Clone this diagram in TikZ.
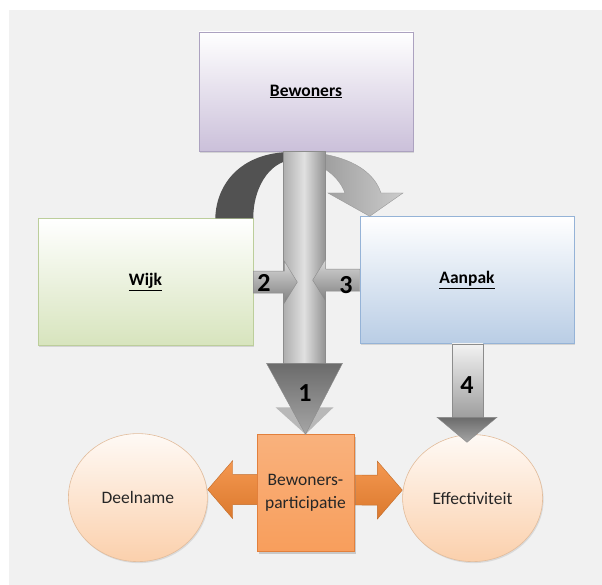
\documentclass[tikz,border=0pt]{standalone}
\usepackage{fontspec}
\setmainfont{Carlito}
\definecolor{bggrey}{RGB}{241,241,241}
\definecolor{bewfill}{RGB}{203,192,218}
\definecolor{bewline}{RGB}{172,162,192}
\definecolor{wijkfill}{RGB}{215,228,189}
\definecolor{wijkline}{RGB}{188,206,155}
\definecolor{aanpakfill}{RGB}{185,205,229}
\definecolor{aanpakline}{RGB}{149,179,215}
\definecolor{peach}{RGB}{251,208,172}
\definecolor{peachline}{RGB}{226,188,155}
\definecolor{partfill}{RGB}{248,158,92}
\definecolor{partline}{RGB}{226,128,60}
\definecolor{arrorange}{RGB}{243,134,50}
\definecolor{textgrey}{RGB}{38,38,38}
\usetikzlibrary{shapes.geometric,positioning,calc,shadows,backgrounds}

\begin{document}
\begin{tikzpicture}[x=1pt,y=-1pt,font=\fontsize{17.5}{23}\selectfont]
  \tikzstyle{mainbox}=[rectangle,minimum width=214pt,minimum height=127pt,inner sep=0pt,align=center,line width=0.6pt,font=\fontsize{17.5}{23}\selectfont\bfseries,top color=white,drop shadow={shadow xshift=1.2pt,shadow yshift=-1.8pt,opacity=0.25}]
  \tikzstyle{roundbox}=[ellipse,minimum width=139pt,minimum height=128pt,inner sep=0pt,draw=peachline,line width=0.6pt,top color=peach!12,bottom color=peach,text=textgrey,drop shadow={shadow xshift=1pt,shadow yshift=-1.5pt,opacity=0.2}]
  \tikzstyle{partbox}=[rectangle,minimum width=97pt,minimum height=117pt,inner sep=0pt,align=center,draw=partline,line width=0.6pt,top color=partfill!80!white,bottom color=partfill,text=textgrey,drop shadow={shadow xshift=1.5pt,shadow yshift=-2pt,opacity=0.35}]
  \tikzstyle{numlabel}=[font=\fontsize{26}{30}\selectfont\bfseries,inner sep=0pt]
  \tikzstyle{greyshaft}=[left color=black!32,right color=black!42,middle color=black!12,draw=black!45,line width=0.4pt]
  \tikzstyle{greyhead}=[top color=black!58,bottom color=black!35,draw=black!45,line width=0.4pt]
  \tikzstyle{greybar}=[top color=black!15,bottom color=black!50,draw=black!45,line width=0.4pt]

  \useasboundingbox (0,0) rectangle (602,585);
  \begin{scope}[on background layer]
    \fill[bggrey] (9,10) rectangle (602,585);
  \end{scope}

  % boxes
  \node[mainbox,minimum height=119pt,draw=bewline,bottom color=bewfill] (bew) at (306,91.5) {\underline{Bewoners}};
  \node[mainbox,below=67pt of bew,xshift=-160.5pt,minimum width=215pt,draw=wijkline,bottom color=wijkfill] (wijk) {\underline{Wijk}};
  \node[mainbox,below=65pt of bew,xshift=161pt,draw=aanpakline,bottom color=aanpakfill] (aanpak) {\underline{Aanpak}};
  \node[partbox,below=283pt of bew,xshift=-0.5pt] (part) {Bewoners-\\participatie};
  \node[roundbox,left=49pt of part,yshift=-4.5pt] (dee) {Deelname};
  \node[roundbox,right=48pt of part,yshift=-5pt,minimum width=140pt,minimum height=127pt] (eff) {Effectiviteit};

  % curved arrow from wijk over to aanpak
  \fill[black!68] ($(wijk.north east)+(-38,0)$) .. controls (216,185) and (240,152) .. (292,152)
    -- (292,160) .. controls (268,162) and (253,190) .. (wijk.north east) -- cycle;
  \path[left color=black!45,right color=black!20,draw=black!40,line width=0.4pt]
    (292,152) .. controls (335,151) and (372,165) .. (381,193) -- (403,193)
    -- ($(aanpak.north west)+(10,0)$) -- (328,193) -- (345,193)
    .. controls (337,172) and (315,160) .. (292,160) -- cycle;

  % arrow 1
  \path[greyshaft] ($(bew.south)+(-23,0)$) rectangle ($(part.north)+(19.5,-71)$);
  \fill[black!28] ($(part.north)+(-30,-27)$) -- ($(part.north)+(28,-27)$) -- (part.north) -- cycle;
  \path[greyhead] ($(part.north)+(-39,-71)$) -- ($(part.north)+(37,-71)$) -- (part.north) -- cycle;

  % arrows 2 and 3
  \coordinate (tip2) at ($(wijk.east)+(44,0)$);
  \coordinate (tip3) at ($(aanpak.west)+(-47,0)$);
  \path[greybar] ($(wijk.east)+(0,-11)$) -- ($(tip2)+(-13,-11)$) -- ($(tip2)+(-13,-21)$) -- (tip2)
    -- ($(tip2)+(-13,21)$) -- ($(tip2)+(-13,11)$) -- ($(wijk.east)+(0,11)$) -- cycle;
  \path[greybar] ($(aanpak.west)+(0,-11)$) -- ($(tip3)+(13,-11)$) -- ($(tip3)+(13,-21)$) -- (tip3)
    -- ($(tip3)+(13,21)$) -- ($(tip3)+(13,11)$) -- ($(aanpak.west)+(0,11)$) -- cycle;

  % arrow 4
  \coordinate (tip4) at ($(aanpak.south |- eff.north)+(0,8)$);
  \path[top color=black!5,bottom color=black!38,draw=black!45,line width=0.4pt] ($(aanpak.south)+(-15,0)$) rectangle ($(tip4)+(16,-25)$);
  \path[greyhead] ($(tip4)+(-30,-25)$) -- ($(tip4)+(30,-25)$) -- (tip4) -- cycle;

  % double arrow behind participatie
  \coordinate (ltip) at ($(dee.east)+(0,-8)$);
  \coordinate (rtip) at ($(eff.west)+(0,-8)$);
  \begin{scope}[on background layer]
    \path[top color=arrorange!85!white,bottom color=arrorange!90!black,draw=arrorange!80!black,line width=0.4pt]
      (ltip) -- ($(ltip)+(25,-29)$) -- ($(ltip)+(25,-15)$) -- ($(rtip)+(-25,-15)$) -- ($(rtip)+(-25,-29)$)
      -- (rtip) -- ($(rtip)+(-25,29)$) -- ($(rtip)+(-25,15)$) -- ($(ltip)+(25,15)$) -- ($(ltip)+(25,29)$) -- cycle;
  \end{scope}

  % numbers
  \node[numlabel] (num1) at (305,393) {1};
  \node[numlabel] (num2) at (264,283) {2};
  \node[numlabel] (num3) at (346,285) {3};
  \node[numlabel] (num4) at (467,385) {4};
\end{tikzpicture}
\end{document}
